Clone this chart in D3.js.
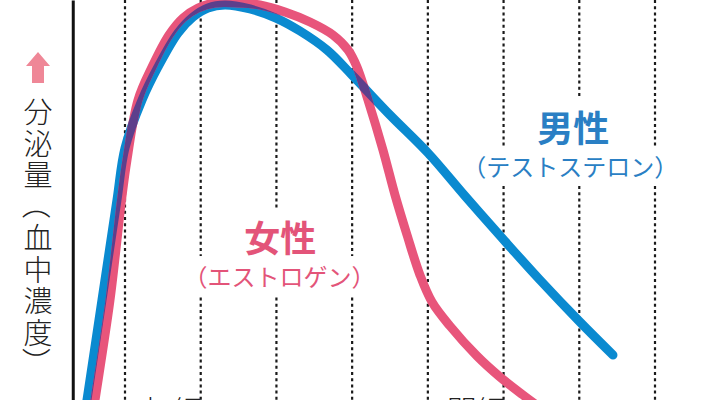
<!DOCTYPE html>
<html><head><meta charset="utf-8">
<script src="https://cdn.jsdelivr.net/npm/d3@7"></script>
<style>
html,body{margin:0;padding:0;background:#fff;}
svg{display:block;font-family:"Noto Sans CJK JP","Noto Sans",sans-serif;}
</style></head>
<body>
<svg id="chart" width="711" height="400"></svg>
<script>
// ---- data ----
const gridAges = [10, 20, 30, 40, 50, 60, 70, 80];
const axisAge = 3.1;

const maleAge   = [4.58, 4.98, 6.96, 8.94, 10.0, 12.25, 14.36, 17.0, 18.98, 20.96, 23.21, 26.51, 29.94, 33.11, 36.68, 39.98, 45.0, 50.02, 54.91, 59.92, 64.81, 70.09, 74.45];
const maleLevel = [0,    4.76, 28.57, 52.38, 64.76, 76.19, 84.05, 92.14, 95.95, 98.10, 98.81, 97.86, 95.71, 92.62, 88.10, 82.14, 72.62, 63.57, 53.33, 43.10, 33.33, 23.33, 15.48];

const femaleAge   = [5.64, 6.04, 8.02, 9.54, 10.26, 11.72, 13.57, 15.81, 17.66, 19.64, 21.89, 24.92, 27.83, 31.13, 34.43, 37.47, 39.46, 40.64, 42.09, 44.07, 45.66, 47.25, 48.96, 50.55, 52.92, 56.49, 59.53, 62.57, 66.13];
const femaleLevel = [0,    4.76, 28.57, 52.38, 61.90, 76.19, 84.05, 91.67, 95.71, 98.10, 99.29, 99.29, 98.81, 97.14, 94.76, 91.67, 88.10, 84.05, 76.19, 64.29, 53.57, 44.05, 34.52, 28.10, 22.38, 15.24, 10.24, 5.95, 1.19];

const yTitleChars = ["分","泌","量","（","血","中","濃","度","）"];
const seriesLabels = [
  {text:"女性", age:30.5, level:43.7, size:36, weight:700, color:"#e35479"},
  {text:"（エストロゲン）", age:30.4, level:34.4, size:24, weight:400, color:"#e35479"},
  {text:"男性", age:69.2, level:69.9, size:36, weight:700, color:"#2a7fc4"},
  {text:"（テストステロン）", age:68.8, level:60.5, size:24, weight:400, color:"#2a7fc4"}
];
const bottomLabels = [{text:"初経", age:12.4}, {text:"閉経", age:52.5}];

// ---- scales ----
const W = 711, H = 400;
const x = d3.scaleLinear().domain([10, 80]).range([125, 655]);
const y = d3.scaleLinear().domain([0, 100]).range([420, 0]);

const svg = d3.select("#chart");

// gridlines
svg.append("g").selectAll("line").data(gridAges).join("line")
  .attr("x1", d => x(d)).attr("x2", d => x(d))
  .attr("y1", 0).attr("y2", H)
  .attr("stroke", "#1a1a1a").attr("stroke-width", 2.2)
  .attr("stroke-dasharray", "3,3.2");

// y axis line
svg.append("g").attr("transform", `translate(${x(axisAge)},0)`)
  .call(d3.axisLeft(y).tickValues([]).tickSizeOuter(0))
  .call(g => g.select(".domain").attr("stroke", "#111").attr("stroke-width", 3));

// series labels with white backing
const lab = svg.append("g");
seriesLabels.forEach(l => {
  const t = lab.append("text")
    .attr("x", x(l.age)).attr("y", y(l.level))
    .attr("text-anchor", "middle").attr("dominant-baseline", "central")
    .attr("font-size", l.size).attr("font-weight", l.weight)
    .attr("fill", l.color).text(l.text);
  const b = t.node().getBBox();
  lab.insert("rect", "text").attr("x", b.x - 3).attr("y", b.y - 2)
    .attr("width", b.width + 6).attr("height", b.height + 4).attr("fill", "#fff");
});

// lines
const pts = (a, v) => a.map((d, i) => ({age: d, level: v[i]}));
const male = pts(maleAge, maleLevel), female = pts(femaleAge, femaleLevel);
const line = d3.line().x(d => x(d.age)).y(d => y(d.level)).curve(d3.curveCatmullRom.alpha(0.5));

const lw = 9;
const defs = svg.append("defs");
defs.append("mask").attr("id", "blueMask").attr("maskUnits", "userSpaceOnUse")
  .attr("x", 0).attr("y", 0).attr("width", W).attr("height", H)
  .append("path").attr("d", line(male)).attr("fill", "none")
  .attr("stroke", "#fff").attr("stroke-width", lw).attr("stroke-linecap", "round");

svg.append("path").attr("d", line(male)).attr("fill", "none")
  .attr("stroke", "#0a8ad0").attr("stroke-width", lw)
  .attr("stroke-linecap", "round").attr("stroke-linejoin", "round");
svg.append("path").attr("d", line(female)).attr("fill", "none")
  .attr("stroke", "#e8557b").attr("stroke-width", lw)
  .attr("stroke-linecap", "round").attr("stroke-linejoin", "round");
svg.append("path").attr("d", line(female)).attr("fill", "none")
  .attr("stroke", "#5d3f8c").attr("stroke-width", lw)
  .attr("stroke-linecap", "round").attr("stroke-linejoin", "round")
  .attr("mask", "url(#blueMask)");

// y title (vertical, one glyph per row)
const tx = 38, ty0 = 110, pitch = 31.5;
svg.append("g").selectAll("text").data(yTitleChars).join("text")
  .attr("transform", (d, i) => {
    const cy = ty0 + i * pitch;
    return (d === "（" || d === "）") ? `translate(${tx},${cy}) rotate(90)` : `translate(${tx},${cy})`;
  })
  .attr("text-anchor", "middle").attr("dominant-baseline", "central")
  .attr("font-size", 29).attr("font-weight", 300).attr("fill", "#222")
  .text(d => d);

// arrow
const ax = 38, atip = 52;
svg.append("path")
  .attr("d", `M${ax},${atip} L${ax+12},${atip+14} L${ax+6},${atip+14} L${ax+6},${atip+31} L${ax-6},${atip+31} L${ax-6},${atip+14} L${ax-12},${atip+14} Z`)
  .attr("fill", "#ef8797");

// bottom labels (mostly cropped, as in the source)
svg.append("g").selectAll("text").data(bottomLabels).join("text")
  .attr("x", d => x(d.age)).attr("y", 409)
  .attr("dominant-baseline", "central")
  .attr("font-size", 30).attr("font-weight", 300).attr("fill", "#222")
  .text(d => d.text);
</script>
</body></html>
